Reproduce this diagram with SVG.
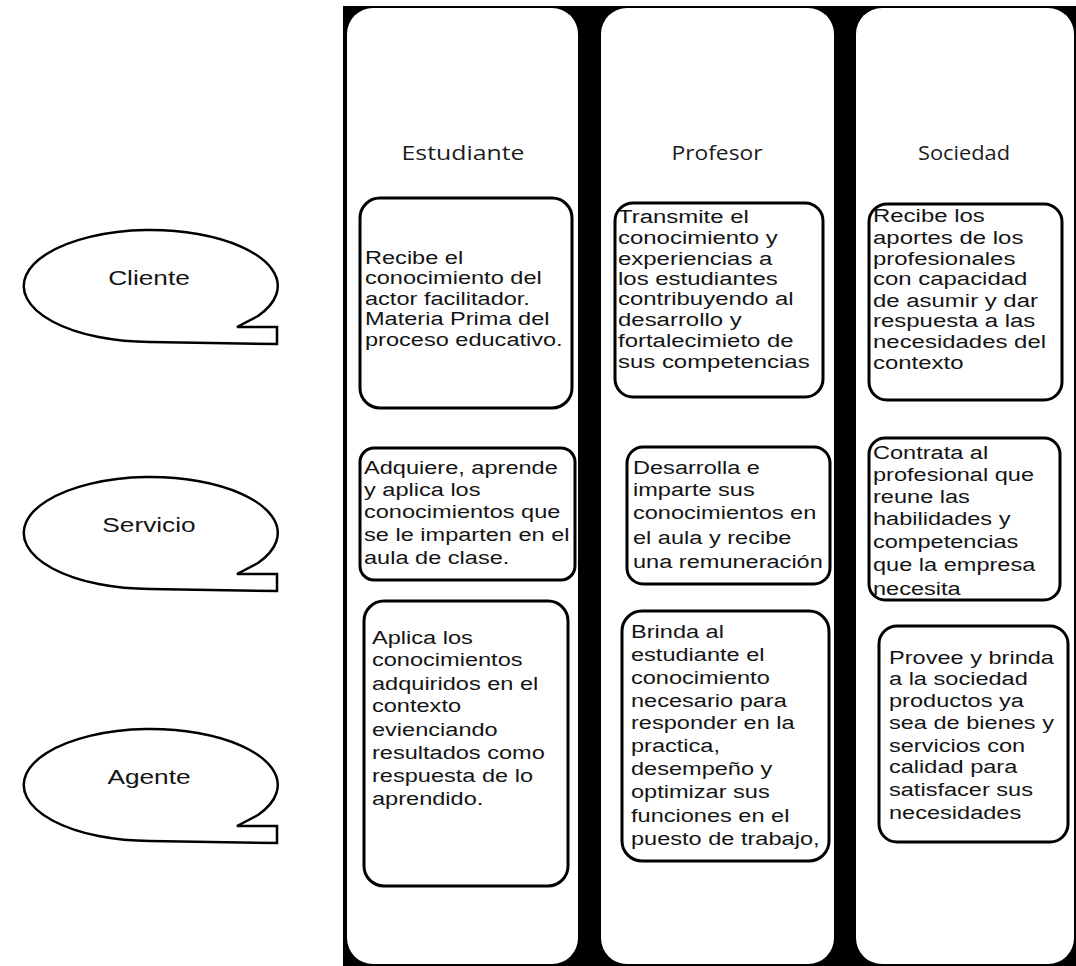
<svg xmlns="http://www.w3.org/2000/svg" width="1076" height="966" viewBox="0 0 1076 966">
  <style>
    .lane { fill: #ffffff; }
    .card { fill: #ffffff; stroke: #000000; stroke-width: 3; }
    .bubble { fill: #ffffff; stroke: #000000; stroke-width: 2.5; stroke-linejoin: miter; }
    .body { font-family: "Liberation Sans", Arial, sans-serif; font-size: 19px; fill: #141414; }
    .role { font-family: "Liberation Sans", Arial, sans-serif; font-size: 21px; fill: #141414; text-anchor: middle; }
    .head { font-family: "Open Sans", "DejaVu Sans", sans-serif; font-size: 20px; fill: #1c1c1c; text-anchor: middle; }
  </style>

  <rect width="1076" height="966" fill="#ffffff"/>

  <!-- black backing that shows between the three lanes -->
  <rect x="343" y="6" width="733" height="960" fill="#000000"/>

  <!-- lanes -->
  <g id="lane-estudiante">
    <rect class="lane" x="347" y="8" width="231" height="956" rx="26"/>
    <text class="head" x="463" y="160" textLength="123" lengthAdjust="spacingAndGlyphs">Estudiante</text>
  </g>
  <g id="lane-profesor">
    <rect class="lane" x="601" y="8" width="233" height="956" rx="26"/>
    <text class="head" x="717" y="160" textLength="91" lengthAdjust="spacingAndGlyphs">Profesor</text>
  </g>
  <g id="lane-sociedad">
    <rect class="lane" x="856" y="8" width="218" height="956" rx="26"/>
    <text class="head" x="964" y="160" textLength="92" lengthAdjust="spacingAndGlyphs">Sociedad</text>
  </g>

  <!-- role bubbles on the left -->
  <g id="role-cliente">
    <path class="bubble" d="M258,316 L237,327 L277,327 L277,344 L150,342 A127,56 0 1 1 258,316 Z"/>
    <text class="role" transform="translate(149,0) scale(1.25,1)" x="0" y="285">Cliente</text>
  </g>
  <g id="role-servicio">
    <path class="bubble" d="M258,563 L237,574 L277,574 L277,591 L150,589 A127,56 0 1 1 258,563 Z"/>
    <text class="role" transform="translate(149,0) scale(1.25,1)" x="0" y="532">Servicio</text>
  </g>
  <g id="role-agente">
    <path class="bubble" d="M258,815 L237,826 L277,826 L277,843 L150,841 A127,56 0 1 1 258,815 Z"/>
    <text class="role" transform="translate(149,0) scale(1.25,1)" x="0" y="784">Agente</text>
  </g>

  <!-- Estudiante cards -->
  <g id="estudiante-cliente">
    <rect class="card" x="360" y="198" width="212" height="210" rx="20" stroke-width="2.5"/>
    <text class="body" transform="translate(365,0) scale(1.24,1)">
      <tspan x="0" y="264">Recibe el</tspan>
      <tspan x="0" y="284">conocimiento del</tspan>
      <tspan x="0" y="305">actor facilitador.</tspan>
      <tspan x="0" y="325">Materia Prima del</tspan>
      <tspan x="0" y="346">proceso educativo.</tspan>
    </text>
  </g>
  <g id="estudiante-servicio">
    <rect class="card" x="360" y="448" width="215" height="132" rx="14"/>
    <text class="body" transform="translate(364,0) scale(1.24,1)">
      <tspan x="0" y="474">Adquiere, aprende</tspan>
      <tspan x="0" y="496">y aplica los</tspan>
      <tspan x="0" y="518">conocimientos que</tspan>
      <tspan x="0" y="541">se le imparten en el</tspan>
      <tspan x="0" y="564">aula de clase.</tspan>
    </text>
  </g>
  <g id="estudiante-agente">
    <rect class="card" x="364" y="601" width="204" height="285" rx="20" stroke-width="3.5"/>
    <text class="body" transform="translate(372,0) scale(1.24,1)">
      <tspan x="0" y="644">Aplica los</tspan>
      <tspan x="0" y="666">conocimientos</tspan>
      <tspan x="0" y="690">adquiridos en el</tspan>
      <tspan x="0" y="712">contexto</tspan>
      <tspan x="0" y="736">evienciando</tspan>
      <tspan x="0" y="759">resultados como</tspan>
      <tspan x="0" y="782">respuesta de lo</tspan>
      <tspan x="0" y="805">aprendido.</tspan>
    </text>
  </g>

  <!-- Profesor cards -->
  <g id="profesor-cliente">
    <rect class="card" x="615" y="203" width="208" height="194" rx="18"/>
    <text class="body" transform="translate(618,0) scale(1.26,1)">
      <tspan x="0" y="223">Transmite el</tspan>
      <tspan x="0" y="244">conocimiento y</tspan>
      <tspan x="0" y="265">experiencias a</tspan>
      <tspan x="0" y="285">los estudiantes</tspan>
      <tspan x="0" y="305">contribuyendo al</tspan>
      <tspan x="0" y="326">desarrollo y</tspan>
      <tspan x="0" y="347">fortalecimieto de</tspan>
      <tspan x="0" y="368">sus competencias</tspan>
    </text>
  </g>
  <g id="profesor-servicio">
    <rect class="card" x="627" y="447" width="203" height="137" rx="16" stroke-width="3.5"/>
    <text class="body" transform="translate(633,0) scale(1.24,1)">
      <tspan x="0" y="474">Desarrolla e</tspan>
      <tspan x="0" y="496">imparte sus</tspan>
      <tspan x="0" y="519">conocimientos en</tspan>
      <tspan x="0" y="544">el aula y recibe</tspan>
      <tspan x="0" y="568">una remuneración</tspan>
    </text>
  </g>
  <g id="profesor-agente">
    <rect class="card" x="622" y="611" width="207" height="250" rx="20" stroke-width="3.5"/>
    <text class="body" transform="translate(631,0) scale(1.24,1)">
      <tspan x="0" y="638">Brinda al</tspan>
      <tspan x="0" y="661">estudiante el</tspan>
      <tspan x="0" y="684">conocimiento</tspan>
      <tspan x="0" y="707">necesario para</tspan>
      <tspan x="0" y="729">responder en la</tspan>
      <tspan x="0" y="752">practica,</tspan>
      <tspan x="0" y="775">desempeño y</tspan>
      <tspan x="0" y="798">optimizar sus</tspan>
      <tspan x="0" y="822">funciones en el</tspan>
      <tspan x="0" y="845">puesto de trabajo,</tspan>
    </text>
  </g>

  <!-- Sociedad cards -->
  <g id="sociedad-cliente">
    <rect class="card" x="869" y="204" width="193" height="196" rx="18" stroke-width="4"/>
    <text class="body" transform="translate(873,0) scale(1.26,1)">
      <tspan x="0" y="222">Recibe los</tspan>
      <tspan x="0" y="244">aportes de los</tspan>
      <tspan x="0" y="265">profesionales</tspan>
      <tspan x="0" y="285">con capacidad</tspan>
      <tspan x="0" y="307">de asumir y dar</tspan>
      <tspan x="0" y="327">respuesta a las</tspan>
      <tspan x="0" y="348">necesidades del</tspan>
      <tspan x="0" y="369">contexto</tspan>
    </text>
  </g>
  <g id="sociedad-servicio">
    <rect class="card" x="869" y="438" width="191" height="162" rx="16"/>
    <text class="body" transform="translate(873,0) scale(1.24,1)">
      <tspan x="0" y="459">Contrata al</tspan>
      <tspan x="0" y="481">profesional que</tspan>
      <tspan x="0" y="503">reune las</tspan>
      <tspan x="0" y="525">habilidades y</tspan>
      <tspan x="0" y="548">competencias</tspan>
      <tspan x="0" y="571">que la empresa</tspan>
      <tspan x="0" y="595">necesita</tspan>
    </text>
  </g>
  <g id="sociedad-agente">
    <rect class="card" x="879" y="626" width="189" height="216" rx="18" stroke-width="3.5"/>
    <text class="body" transform="translate(889,0) scale(1.24,1)">
      <tspan x="0" y="664">Provee y brinda</tspan>
      <tspan x="0" y="685">a la sociedad</tspan>
      <tspan x="0" y="707">productos ya</tspan>
      <tspan x="0" y="729">sea de bienes y</tspan>
      <tspan x="0" y="752">servicios con</tspan>
      <tspan x="0" y="773">calidad para</tspan>
      <tspan x="0" y="796">satisfacer sus</tspan>
      <tspan x="0" y="819">necesidades</tspan>
    </text>
  </g>

  <!-- no connectors are drawn between the cards -->
  <g id="connectors"/>
</svg>
